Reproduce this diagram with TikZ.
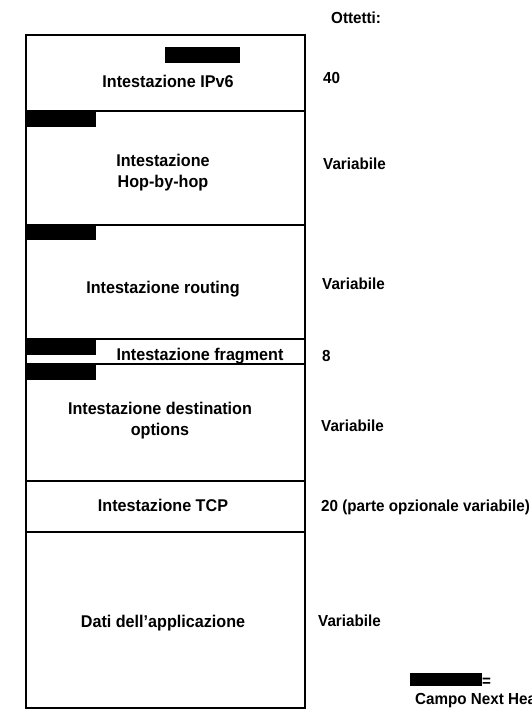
\documentclass[tikz,border=0pt]{standalone}
\usepackage{fontspec}
\setmainfont{Liberation Sans}[FakeStretch=0.95]
\begin{document}
\begin{tikzpicture}[x=1pt,y=-1pt,
  hdr/.style={draw=black, line width=2pt, rectangle, inner sep=0pt, outer sep=0pt,
              anchor=north west, minimum width=279pt},
  nhbar/.style={fill=black, rectangle, inner sep=0pt, outer sep=0pt, anchor=north west},
  lblone/.style={font=\bfseries\fontsize{17}{21}\selectfont, anchor=base, inner sep=0pt},
  lbltwo/.style={font=\bfseries\fontsize{17}{21}\selectfont, align=center, anchor=center, inner sep=0pt},
  sizelbl/.style={font=\bfseries\fontsize{16}{20}\selectfont, anchor=base west, inner sep=0pt}]
\clip (0,0) rectangle (531,710);

% stacked header blocks of the packet
\node[hdr, minimum height=76pt]  (ipv6) at (26,35) {};
\node[hdr, minimum height=114pt] (hbh)  at (ipv6.south west) {};
\node[hdr, minimum height=114pt] (rt)   at (hbh.south west) {};
\node[hdr, minimum height=25pt]  (frag) at (rt.south west) {};
\node[hdr, minimum height=117pt] (dst)  at (frag.south west) {};
\node[hdr, minimum height=51pt]  (tcp)  at (dst.south west) {};
\node[hdr, minimum height=176pt] (data) at (tcp.south west) {};

% Next Header fields
\node[nhbar, minimum width=75pt, minimum height=16pt] (nh0) at (165,47) {};
\node[nhbar, minimum width=70pt, minimum height=16pt] (nh1) at (hbh.north west) {};
\node[nhbar, minimum width=70pt, minimum height=15pt] (nh2) at (rt.north west) {};
\node[nhbar, minimum width=70pt, minimum height=16pt] (nh3) at (frag.north west) {};
\node[nhbar, minimum width=70pt, minimum height=16pt] (nh4) at (dst.north west) {};

% block names
\node[lblone] (tipv6) at (168,87)  {Intestazione IPv6};
\node[lbltwo] (thbh)  at (163,173) {Intestazione\\Hop-by-hop};
\node[lblone] (trt)   at (163,293) {Intestazione routing};
\node[lblone] (tfrag) at (200,360) {Intestazione fragment};
\node[lbltwo] (tdst)  at (160,421) {Intestazione destination\\options};
\node[lblone] (ttcp)  at (163,511) {Intestazione TCP};
\node[lblone] (tdata) at (163,627) {Dati dell’applicazione};

% sizes in octets
\node[sizelbl] (shead) at (331,23)  {Ottetti:};
\node[sizelbl] (sipv6) at (323,83)  {40};
\node[sizelbl] (shbh)  at (323,169) {Variabile};
\node[sizelbl] (srt)   at (322,289) {Variabile};
\node[sizelbl] (sfrag) at (322,361) {8};
\node[sizelbl] (sdst)  at (321,431) {Variabile};
\node[sizelbl] (stcp)  at (321,511) {20 (parte opzionale variabile)};
\node[sizelbl] (sdata) at (318,626) {Variabile};

% legend
\node[nhbar, minimum width=72pt, minimum height=13pt] (keybar) at (410,673) {};
\node[sizelbl, anchor=base west] (keyeq) at (keybar.south east) {=};
\node[sizelbl] (keytxt) at (415,704) {Campo Next Header};
\end{tikzpicture}
\end{document}
